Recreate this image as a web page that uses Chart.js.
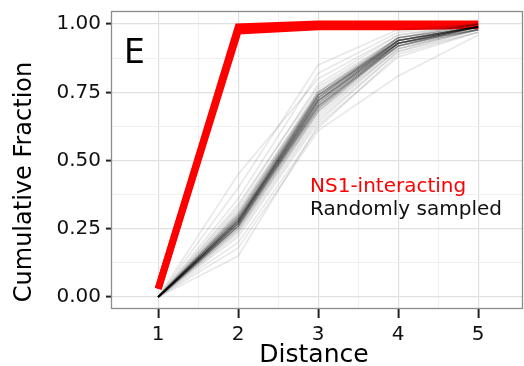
<!DOCTYPE html>
<html>
<head>
<meta charset="utf-8">
<script src="https://cdn.jsdelivr.net/npm/chart.js@4/dist/chart.umd.min.js"></script>
<style>
html,body{margin:0;padding:0;background:#fff;}
#wrap{width:524px;height:366px;position:relative;}
</style>
</head>
<body>
<div id="wrap"><canvas id="c" width="524" height="366"></canvas></div>
<script>
// ---- data ----
const distances = [1, 2, 3, 4, 5];
const xTickLabels = ['1', '2', '3', '4', '5'];
const yTickLabels = ['0.00', '0.25', '0.50', '0.75', '1.00'];
const yMajor = [0, 0.25, 0.5, 0.75, 1.0];
const yMinor = [0.125, 0.375, 0.625, 0.875];
const xMajor = [1, 2, 3, 4, 5];
const xMinor = [1.5, 2.5, 3.5, 4.5];

// NS1-interacting (red, two overlapping traces)
const ns1A = [0.03, 0.99, 1.00, 1.00, 1.00];
const ns1B = [0.03, 0.975, 0.99, 0.99, 0.995];

// Randomly sampled (grey, many faint traces)
const randomSampled = [
  [0, 0.27, 0.71, 0.93, 0.99],
  [0, 0.28, 0.73, 0.94, 0.99],
  [0, 0.26, 0.69, 0.92, 0.98],
  [0, 0.30, 0.75, 0.94, 0.99],
  [0, 0.25, 0.67, 0.91, 0.98],
  [0, 0.29, 0.72, 0.93, 0.99],
  [0, 0.27, 0.74, 0.95, 0.99],
  [0, 0.31, 0.76, 0.95, 1.00],
  [0, 0.24, 0.66, 0.91, 0.98],
  [0, 0.28, 0.70, 0.92, 0.99],
  [0, 0.33, 0.78, 0.96, 1.00],
  [0, 0.22, 0.64, 0.90, 0.98],
  [0, 0.27, 0.72, 0.94, 0.99],
  [0, 0.26, 0.68, 0.93, 0.99],
  [0, 0.29, 0.74, 0.93, 0.98],
  [0, 0.36, 0.82, 0.97, 1.00],
  [0, 0.20, 0.62, 0.89, 0.97],
  [0, 0.28, 0.71, 0.94, 0.99],
  [0, 0.25, 0.70, 0.92, 0.99],
  [0, 0.30, 0.73, 0.95, 0.99],
  [0, 0.40, 0.85, 0.98, 1.00],
  [0, 0.18, 0.61, 0.81, 0.96],
  [0, 0.27, 0.69, 0.93, 0.99],
  [0, 0.32, 0.75, 0.94, 0.99],
  [0, 0.26, 0.72, 0.92, 0.98],
  [0, 0.23, 0.65, 0.90, 0.97],
  [0, 0.28, 0.74, 0.94, 0.99],
  [0, 0.45, 0.80, 0.96, 1.00],
  [0, 0.15, 0.63, 0.88, 0.97],
  [0, 0.29, 0.70, 0.93, 0.99],
  [0, 0.27, 0.73, 0.95, 0.99],
  [0, 0.34, 0.77, 0.95, 1.00],
  [0, 0.24, 0.68, 0.91, 0.98],
  [0, 0.28, 0.72, 0.93, 0.99],
  [0, 0.26, 0.71, 0.94, 0.99],
  [0, 0.31, 0.74, 0.93, 0.99],
  [0, 0.27, 0.70, 0.93, 0.99],
  [0, 0.28, 0.73, 0.94, 0.99],
  [0, 0.26, 0.71, 0.93, 0.98],
  [0, 0.29, 0.74, 0.94, 0.99],
  [0, 0.27, 0.72, 0.93, 0.99],
  [0, 0.28, 0.71, 0.92, 0.99],
  [0, 0.26, 0.69, 0.93, 0.98],
  [0, 0.29, 0.73, 0.94, 0.99],
  [0, 0.27, 0.74, 0.94, 0.99],
  [0, 0.28, 0.72, 0.93, 0.99],
  [0, 0.25, 0.68, 0.92, 0.98],
  [0, 0.30, 0.74, 0.94, 0.99],
  [0, 0.27, 0.70, 0.92, 0.99],
  [0, 0.28, 0.75, 0.95, 0.99],
  [0, 0.26, 0.70, 0.93, 0.99],
  [0, 0.29, 0.72, 0.94, 0.99],
  [0, 0.27, 0.73, 0.93, 0.98],
  [0, 0.28, 0.69, 0.92, 0.99],
  [0, 0.26, 0.72, 0.94, 0.99],
  [0, 0.30, 0.75, 0.95, 1.00]
];

const panelLabel = 'E';
const legendLabels = ['NS1-interacting', 'Randomly sampled'];
const xTitle = 'Distance';
const yTitle = 'Cumulative Fraction';

// ---- build datasets ----
const toPoints = vals => vals.map((v, i) => ({x: distances[i], y: v}));
const datasets = [];
randomSampled.forEach(s => datasets.push({
  data: toPoints(s), borderColor: 'rgba(0,0,0,0.09)', borderWidth: 1.7,
  pointRadius: 0, tension: 0, order: 0
}));
[ns1A, ns1B].forEach(s => datasets.push({
  data: toPoints(s), borderColor: '#ff0000', borderWidth: 7,
  pointRadius: 0, tension: 0, order: 1, borderCapStyle: 'butt'
}));

const FONT = 'DejaVu Sans';
const isMajor = (v, arr) => arr.some(m => Math.abs(m - v) < 1e-9);

const overlay = {
  id: 'overlay',
  afterDraw(chart) {
    const {ctx, chartArea: a} = chart;
    ctx.save();
    // panel border
    ctx.strokeStyle = '#8c8c8c';
    ctx.lineWidth = 1.3;
    ctx.strokeRect(a.left + 0.5, a.top + 0.5, a.right - a.left - 1, a.bottom - a.top - 1);
    // panel letter
    ctx.fillStyle = '#000';
    ctx.font = '33px "' + FONT + '"';
    ctx.textAlign = 'left';
    ctx.textBaseline = 'alphabetic';
    ctx.fillText(panelLabel, 124, 63);
    // legend text
    ctx.font = '20px "' + FONT + '"';
    ctx.fillStyle = '#ff0000';
    ctx.fillText(legendLabels[0], 310, 192);
    ctx.fillStyle = '#111';
    ctx.fillText(legendLabels[1], 310, 215);
    // x title
    ctx.font = '25px "' + FONT + '"';
    ctx.textAlign = 'center';
    ctx.fillStyle = '#000';
    ctx.fillText(xTitle, 314, 362);
    // y title
    ctx.translate(31, 182);
    ctx.rotate(-Math.PI / 2);
    ctx.font = '24px "' + FONT + '"';
    ctx.fillText(yTitle, 0, 0);
    ctx.restore();
  }
};

new Chart(document.getElementById('c'), {
  type: 'line',
  data: {datasets},
  options: {
    responsive: false,
    animation: false,
    devicePixelRatio: 1,
    layout: {padding: {left: 0, right: 1, top: 11, bottom: 0}},
    plugins: {legend: {display: false}, tooltip: {enabled: false}},
    scales: {
      x: {
        type: 'linear', min: 0.41, max: 5.56,
        afterFit(s) { s.height = 57; s.paddingLeft = 0; s.paddingRight = 0; },
        afterBuildTicks(s) { s.ticks = xMajor.concat(xMinor).sort((a, b) => a - b).map(v => ({value: v})); },
        border: {display: false},
        grid: {
          color: c => isMajor(c.tick.value, xMajor) ? '#e0e0e0' : '#f0f0f0',
          lineWidth: c => isMajor(c.tick.value, xMajor) ? 1.2 : 1,
          tickColor: c => isMajor(c.tick.value, xMajor) ? '#222' : 'rgba(0,0,0,0)',
          tickLength: 9, tickWidth: 2
        },
        ticks: {
          autoSkip: false, maxRotation: 0, padding: 5, color: '#111',
          font: {family: FONT, size: 20},
          callback: v => { const i = xMajor.findIndex(m => Math.abs(m - v) < 1e-9); return i >= 0 ? xTickLabels[i] : ''; }
        }
      },
      y: {
        type: 'linear', min: -0.044, max: 1.048,
        afterFit(s) { s.width = 111; s.paddingTop = 0; s.paddingBottom = 0; },
        afterBuildTicks(s) { s.ticks = yMajor.concat(yMinor).sort((a, b) => a - b).map(v => ({value: v})); },
        border: {display: false},
        grid: {
          color: c => isMajor(c.tick.value, yMajor) ? '#e0e0e0' : '#f0f0f0',
          lineWidth: c => isMajor(c.tick.value, yMajor) ? 1.2 : 1,
          tickColor: c => isMajor(c.tick.value, yMajor) ? '#222' : 'rgba(0,0,0,0)',
          tickLength: 5, tickWidth: 2
        },
        ticks: {
          autoSkip: false, padding: 5, color: '#111',
          font: {family: FONT, size: 20},
          callback: v => { const i = yMajor.findIndex(m => Math.abs(m - v) < 1e-9); return i >= 0 ? yTickLabels[i] : ''; }
        }
      }
    }
  },
  plugins: [overlay]
});
</script>
</body>
</html>
